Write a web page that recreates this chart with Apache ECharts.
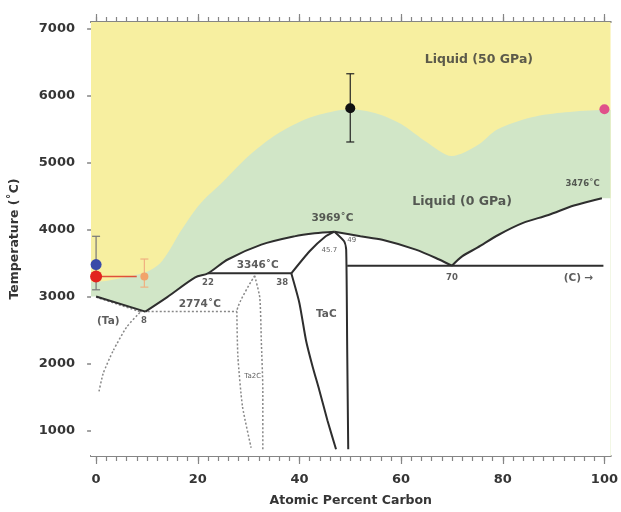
<!DOCTYPE html>
<html>
<head>
<meta charset="utf-8">
<script src="https://cdn.jsdelivr.net/npm/echarts@6/dist/echarts.min.js"></script>
<style>
  html, body { margin: 0; padding: 0; background: #fff; }
  #main { width: 621px; height: 512px; }
</style>
</head>
<body>
<div id="main"></div>
<script type="text/javascript">
// axis ticks
var xTicks = [0, 20, 40, 60, 80, 100];
var xMinorTicks = [];
for (var t = 0; t <= 100; t += 2) xMinorTicks.push(t);
var yTicks = [1000, 2000, 3000, 4000, 5000, 6000, 7000];

// liquidus at 50 GPa (top of green region)
var liquidus50 = [[0, 3220], [6, 3290], [10, 3370], [12.5, 3490], [14.5, 3700], [16.5, 3960],
  [20.4, 4380], [25, 4720], [30, 5100], [35, 5400], [40, 5610], [44, 5720], [50, 5800],
  [55, 5740], [60, 5580], [65, 5310], [70, 5100], [75, 5260], [79, 5500], [85.7, 5680],
  [92.3, 5755], [100, 5790]];

// liquidus at 0 GPa, split in pieces between the invariant points
var liqTa = [[0, 3000], [9.7, 2774]];
var liqMid = [[9.7, 2774], [14, 2990], [19.5, 3285], [22, 3346], [25.9, 3553], [32.5, 3775],
  [39, 3899], [43, 3945], [46.9, 3969]];
var liqTaC = [[46.9, 3969], [52, 3900], [56.3, 3849], [62.9, 3701], [67.5, 3553], [70, 3460]];
var liqC = [[70, 3460], [72, 3600], [75, 3730], [79.2, 3923], [84, 4100], [89, 4219],
  [94, 4360], [99.5, 4470]];

// solid phase boundaries
var peritectic = [[22, 3346], [38.4, 3346]];
var tacLeftTop = [[38.4, 3346], [42, 3677], [45, 3890], [46.9, 3969]];
var tacLeft = [[38.4, 3346], [40, 2900], [41.3, 2343], [42.6, 1950], [43.9, 1603],
  [45.5, 1150], [47.2, 715]];
var tacRight = [[46.9, 3969], [48.8, 3825], [49.2, 3700], [49.4, 2200], [49.6, 715]];
var eutecticC = [[49.4, 3460], [99.8, 3460]];

// dotted boundaries
var taSolidus = [[0, 2990], [8.6, 2774]];
var eutecticTa = [[8.6, 2774], [27.7, 2774]];
var taSolvus = [[8.6, 2760], [6, 2541], [3.4, 2195], [1.4, 1849], [0.5, 1553]];
var ta2cLeft = [[31.2, 3310], [27.7, 2774], [27.9, 2097], [28.8, 1356], [30.5, 738]];
var ta2cRight = [[31.2, 3310], [32.2, 2985], [32.5, 2343], [32.8, 1603], [32.8, 714]];

// measured points [x, T]
var ptBlue = [[0, 3478]];
var ptRed = [[0, 3300]];
var ptOrange = [[9.5, 3300]];
var ptBlack = [[50, 5815]];
var ptPink = [[100, 5800]];
var redArrow = [[0, 3300], [8, 3300]];
// error bars [x, low, high]
var errGrey = [[0, 3100, 3900]];
var errOrange = [[9.5, 3140, 3560]];
var errBlack = [[50, 5310, 6330]];

// text labels [x, T, text]
var labelsLarge = [[75.3, 6540, 'Liquid (50 GPa)'], [72, 4420, 'Liquid (0 GPa)']];
var labelsMid = [[46.5, 4170, '3969˚C'], [31.8, 3474, '3346˚C'], [20.4, 2881, '2774˚C'],
  [2.4, 2630, '(Ta)'], [45.3, 2733, 'TaC'], [94.9, 3267, '(C) →']];
var labelsSmall = [[95.7, 4689, '3476˚C'], [22, 3207, '22'], [36.6, 3207, '38'],
  [9.4, 2630, '8'], [70, 3281, '70']];
var labelsTiny = [[30.8, 1815, 'Ta2C'], [45.9, 3696, '45.7'], [50.3, 3844, '49']];

var X_MIN = -1, X_MAX = 101.2, Y_MIN = 615, Y_MAX = 7104;
var FONT = 'DejaVu Sans';
var AXIS_COLOR = '#858585';
var LINE_COLOR = '#2e2e2e';
var DOT_COLOR = '#888';
var TEXT_COLOR = '#353535';

// extend a curve to a plot edge (for area fills)
function extendLeft(pts) { return [[X_MIN, pts[0][1]]].concat(pts); }
function extendRight(pts) { return pts.concat([[X_MAX, pts[pts.length - 1][1]]]); }
var liquidus0 = liqTa.concat(liqMid.slice(1), liqTaC.slice(1), liqC.slice(1));

function solid(data, smooth) {
  return { type: 'line', data: data, smooth: smooth || false, symbol: 'none', silent: true, z: 5,
    lineStyle: { color: LINE_COLOR, width: 2 } };
}
function dotted(data) {
  return { type: 'line', data: data, smooth: 0.2, symbol: 'none', silent: true, z: 4,
    lineStyle: { color: DOT_COLOR, width: 1.5, type: [2, 2] } };
}
function area(data, color, z, smooth) {
  return { type: 'line', data: data, smooth: smooth || false, symbol: 'none', silent: true, z: z,
    lineStyle: { width: 0 }, areaStyle: { color: color, opacity: 1, origin: 'start' } };
}
function dots(data, color, size) {
  return { type: 'scatter', data: data, symbol: 'circle', symbolSize: size, z: 8,
    itemStyle: { color: color, opacity: 1 } };
}
function errBars(data, color) {
  return { type: 'custom', data: data, z: 7, silent: true,
    renderItem: function (params, api) {
      var lo = api.coord([api.value(0), api.value(1)]);
      var hi = api.coord([api.value(0), api.value(2)]);
      var w = 4;
      var st = { stroke: color, lineWidth: 1.2 };
      return { type: 'group', children: [
        { type: 'line', shape: { x1: lo[0], y1: lo[1], x2: hi[0], y2: hi[1] }, style: st },
        { type: 'line', shape: { x1: lo[0] - w, y1: lo[1], x2: lo[0] + w, y2: lo[1] }, style: st },
        { type: 'line', shape: { x1: hi[0] - w, y1: hi[1], x2: hi[0] + w, y2: hi[1] }, style: st }
      ] };
    } };
}
function texts(data, size, weight) {
  return { type: 'scatter', data: data, symbolSize: 0, silent: true, z: 9,
    label: { show: true, position: 'inside', fontFamily: FONT, fontSize: size, fontWeight: weight,
      color: TEXT_COLOR, formatter: function (p) { return p.value[2]; } } };
}
function xAxisDef(pos, ticks, len, labels) {
  return { type: 'value', position: pos, min: X_MIN, max: X_MAX, gridIndex: 0,
    axisLine: { show: true, onZero: false, lineStyle: { color: AXIS_COLOR, width: 2 } },
    axisTick: { show: true, inside: false, length: len, customValues: ticks,
      lineStyle: { color: AXIS_COLOR, width: 1.2 } },
    axisLabel: { show: labels, customValues: xTicks, margin: 17, fontFamily: FONT, fontSize: 13,
      fontWeight: 'bold', color: TEXT_COLOR },
    splitLine: { show: false } };
}

var myChart = echarts.init(document.getElementById('main'));
var option = {
  animation: false,
  grid: { left: 91, right: 9, top: 22, bottom: 52, containLabel: false },
  xAxis: [
    Object.assign(xAxisDef('bottom', xTicks, 8, true), {
      name: 'Atomic Percent Carbon', nameLocation: 'middle', nameGap: 38,
      nameTextStyle: { fontFamily: FONT, fontSize: 12.5, fontWeight: 'bold', color: TEXT_COLOR } }),
    xAxisDef('bottom', xMinorTicks, 5, false),
    xAxisDef('top', xTicks, 8, false),
    xAxisDef('top', xMinorTicks, 5, false)
  ],
  yAxis: [
    { type: 'value', position: 'left', min: Y_MIN, max: Y_MAX,
      name: 'Temperature (˚C)', nameLocation: 'middle', nameGap: 70,
      nameTextStyle: { fontFamily: FONT, fontSize: 12.5, fontWeight: 'bold', color: TEXT_COLOR },
      axisLine: { show: true, lineStyle: { color: AXIS_COLOR, width: 2 } },
      axisTick: { show: true, length: 9, customValues: yTicks, lineStyle: { color: AXIS_COLOR, width: 1.5 } },
      axisLabel: { customValues: yTicks, margin: 16, fontFamily: FONT, fontSize: 13, fontWeight: 'bold',
        color: TEXT_COLOR, formatter: function (v) { return String(v); } },
      splitLine: { show: false } },
    { type: 'value', position: 'right', min: Y_MIN, max: Y_MAX,
      axisLine: { show: true, lineStyle: { color: AXIS_COLOR, width: 2 } },
      axisTick: { show: true, length: 8, customValues: yTicks, lineStyle: { color: AXIS_COLOR, width: 1.5 } },
      axisLabel: { show: false },
      splitLine: { show: false } }
  ],
  series: [
    // region fills: yellow everywhere, green below the 50 GPa liquidus, white below the 0 GPa liquidus
    area([[X_MIN, Y_MAX], [X_MAX, Y_MAX]], '#f7efa0', 1),
    area(extendRight(extendLeft(liquidus50)), '#d1e6c7', 2, 0.3),
    area(extendRight(extendLeft(liquidus0)), '#ffffff', 3),
    area(liqMid, '#ffffff', 3, 0.3),
    area(liqTaC, '#ffffff', 3, 0.3),
    area(liqC, '#ffffff', 3, 0.3),

    solid(liqTa), solid(liqMid, 0.3), solid(liqTaC, 0.3), solid(liqC, 0.3),
    solid(peritectic), solid(tacLeftTop, 0.2), solid(tacLeft, 0.2), solid(tacRight, 0.2),
    solid(eutecticC),

    dotted(taSolidus), dotted(eutecticTa), dotted(taSolvus), dotted(ta2cLeft), dotted(ta2cRight),

    { type: 'line', data: redArrow, symbol: 'none', z: 7, silent: true,
      lineStyle: { color: '#e0503a', width: 1.5 } },
    errBars(errGrey, '#777'), errBars(errOrange, '#f0b080'), errBars(errBlack, '#222'),
    dots(ptBlue, '#3a4aa8', 11), dots(ptRed, '#e2231e', 12), dots(ptOrange, '#f2a36a', 8),
    dots(ptBlack, '#111', 10), dots(ptPink, '#e0508a', 10),

    texts(labelsLarge, 12.5, 'bold'), texts(labelsMid, 10.5, 'bold'),
    texts(labelsSmall, 8.5, 'bold'), texts(labelsTiny, 7, 'normal')
  ]
};
myChart.setOption(option);
</script>
</body>
</html>
